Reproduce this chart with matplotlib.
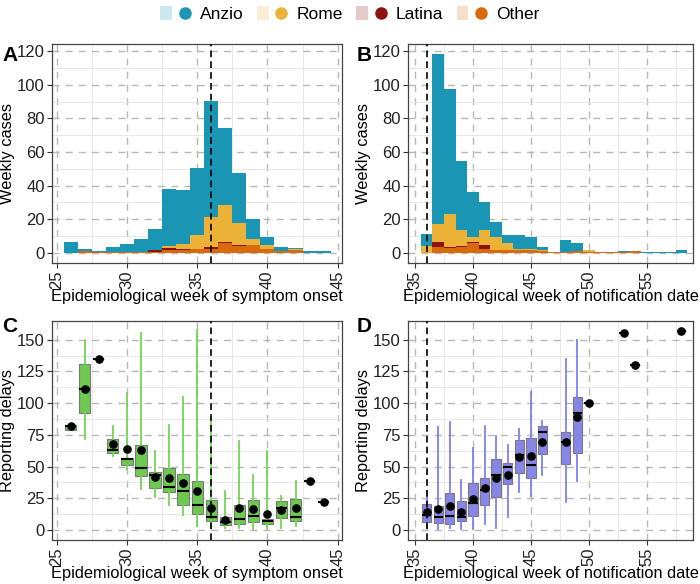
import matplotlib.pyplot as plt
import numpy as np
from matplotlib.patches import Patch
from matplotlib.lines import Line2D
from matplotlib.legend_handler import HandlerTuple

plt.rcParams['font.family'] = ['Liberation Sans', 'DejaVu Sans']

# colours
col_anzio = '#1A95B3'
col_rome = '#EBB237'
col_latina = '#8C1111'
col_other = '#D96A0B'
regions = ['Anzio', 'Rome', 'Latina', 'Other']
region_cols = [col_anzio, col_rome, col_latina, col_other]

# Panel A: weekly cases by week of symptom onset (segments, bottom to top: Other, Latina, Rome, Anzio)
weeks_a = list(range(26, 45))
other_a = [0, 1.2, 0.6, 0.6, 0.6, 0.6, 0.6, 1.6, 1.6, 2.4, 2.6, 5.8, 3.8, 4.4, 2.6, 1, 1.6, 0, 0]
latina_a = [0, 0, 0, 0, 0, 0, 1, 1.4, 1, 0, 0.8, 0.8, 0.8, 0, 0, 0, 0, 0, 0]
rome_a = [0, 0, 0, 0, 0, 0, 0, 1.2, 2.8, 8, 18, 21.8, 13, 4, 1.8, 0, 1, 0, 0]
anzio_a = [6.6, 1, 0.6, 2.6, 4.8, 7.6, 12.8, 34, 31.8, 40, 69.2, 45.8, 29.8, 12, 5, 2.2, 0.4, 1.4, 1.4]

# Panel B: weekly cases by week of notification
weeks_b = list(range(36, 59))
other_b = [0, 3.4, 2.8, 3.6, 5.6, 2.6, 1.6, 1.6, 1.6, 1.6, 1, 0.8, 0.6, 1.4, 0.8, 0.8, 0.8, 0.8, 1.4, 0, 0, 0, 0]
latina_b = [0, 3, 0.6, 0.6, 1, 2.2, 0, 0, 0, 0, 0, 0, 0, 0, 0, 0, 0, 0, 0, 0, 0, 0, 0]
rome_b = [4.2, 11, 20, 9.2, 2.6, 8.6, 7.8, 4, 1, 1, 0.6, 0, 0, 0, 0.8, 0, 0, 0, 0, 0, 0, 0, 0]
anzio_b = [7, 101, 74, 41, 27.2, 17, 9, 5.2, 8, 6.8, 1.8, 0, 7, 4.2, 0, 0, 0, 0.6, 0, 0.8, 0.8, 0.8, 1.6]

# Panel C: reporting delays by week of symptom onset
weeks_c = list(range(26, 45))
q1_c = [79, 92, 135, 60.6, 51, 42.6, 33.3, 29.6, 20, 13, 7, 4, 5, 6, 5, 9.4, 6.8, 39, 22]
med_c = [82, 111, 135, 63, 56, 48.6, 43, 34, 30.4, 20, 10, 6, 9, 11, 7, 17.4, 10, 39, 22]
q3_c = [83, 131, 135, 72, 57, 67.3, 46, 49, 44.5, 38.7, 24, 10, 20, 24, 8.6, 23, 24.7, 39, 22]
lo_c = [79, 72, 135, 58, 48, 32, 26, 20, 12, 3.4, 1.5, 1.5, 1.5, 1, 1, 1.5, 3, 39, 22]
hi_c = [83, 150, 135, 82, 107.6, 155, 62, 83, 105, 157.5, 88, 31, 70, 43, 62, 27, 39, 39, 22]
mean_c = [82, 111, 135, 67.6, 64, 63.4, 42, 41, 36.7, 30.7, 17.7, 8.3, 17, 16.4, 12.5, 15.6, 17.4, 39, 22]

# Panel D: reporting delays by week of notification
weeks_d = [36, 37, 38, 39, 40, 41, 42, 43, 44, 45, 46, 48, 49, 50, 53, 54, 58]
q1_d = [6.5, 5.7, 5, 6.8, 10.7, 20, 26, 36, 45, 41, 60, 52, 61, 100, 155, 130, 157]
med_d = [12, 10, 11, 10, 21.3, 31.7, 43.7, 50, 59.3, 51.2, 77.2, 69, 92, 100, 155, 130, 157]
q3_d = [20.8, 19.2, 29, 22.6, 37.4, 41, 56, 52.5, 70.7, 72.3, 82, 77, 105, 100, 155, 130, 157]
lo_d = [1.5, 1, 2, 1, 1, 5, 2, 10, 30, 27, 43, 22, 39, 100, 155, 130, 157]
hi_d = [31, 81, 85, 39.5, 65, 82, 74, 67, 80, 108.7, 86, 135, 150, 100, 155, 130, 157]
mean_d = [14.3, 16.4, 19.2, 14.6, 24.7, 32.8, 41.3, 43, 57.2, 58.5, 69, 69, 89.4, 100, 155, 130, 157]

cutoff_week = 36

fig = plt.figure(figsize=(7, 5.84), dpi=100)
axA = fig.add_axes([0.0747, 0.550, 0.4143, 0.374])
axB = fig.add_axes([0.5833, 0.550, 0.4071, 0.374])
axC = fig.add_axes([0.0747, 0.0753, 0.4143, 0.3755])
axD = fig.add_axes([0.5833, 0.0753, 0.4071, 0.3755])


def style_axis(ax, xlim, ylim, xmaj, xmin, ymaj, ymin, xlabel, ylabel):
    ax.set_xlim(*xlim)
    ax.set_ylim(*ylim)
    ax.set_xticks(xmaj)
    ax.set_xticks(xmin, minor=True)
    ax.set_yticks(ymaj)
    ax.set_yticks(ymin, minor=True)
    ax.set_axisbelow(True)
    ax.grid(which='minor', color='#E4E4E4', lw=0.6, ls='-')
    ax.grid(which='major', color='#B8B8B8', lw=1.0, ls=(0, (5, 4.5)))
    ax.tick_params(which='minor', length=0)
    ax.tick_params(which='major', length=3.5, width=0.8, color='#333333',
                   labelsize=12, labelcolor='#222222', pad=2)
    ax.tick_params(axis='x', labelrotation=90)
    for s in ax.spines.values():
        s.set_color('#444444')
        s.set_linewidth(0.9)
    ax.set_xlabel(xlabel, fontsize=11.8, labelpad=0)
    ax.set_ylabel(ylabel, fontsize=11.8, labelpad=1)
    ax.axvline(cutoff_week, color='black', lw=1.2, ls=(0, (4, 2.5)), zorder=5)


def stacked_bars(ax, weeks, other, latina, rome, anzio):
    bottom = np.zeros(len(weeks))
    for vals, c in [(other, col_other), (latina, col_latina), (rome, col_rome), (anzio, col_anzio)]:
        ax.bar(weeks, vals, width=1.0, bottom=bottom, color=c, linewidth=0, zorder=2)
        bottom = bottom + np.array(vals)


def boxes(ax, weeks, q1, med, q3, lo, hi, mean, fill, line):
    stats = []
    for i in range(len(weeks)):
        stats.append(dict(med=med[i], q1=q1[i], q3=q3[i], whislo=lo[i], whishi=hi[i], fliers=[]))
    ax.bxp(stats, positions=weeks, widths=0.8, patch_artist=True, showcaps=False,
           showfliers=False, manage_ticks=False,
           boxprops=dict(facecolor=fill, edgecolor='#7A7A7A', linewidth=0.8),
           whiskerprops=dict(color=line, linewidth=1.3),
           medianprops=dict(color='black', linewidth=1.5),
           zorder=3)
    ax.plot(weeks, mean, 'o', color='black', markersize=5.2, zorder=4)


stacked_bars(axA, weeks_a, other_a, latina_a, rome_a, anzio_a)
style_axis(axA, (24.69, 45.33), (-5.9, 124), [25, 30, 35, 40, 45], [27.5, 32.5, 37.5, 42.5],
           [0, 20, 40, 60, 80, 100, 120], [10, 30, 50, 70, 90, 110],
           'Epidemiological week of symptom onset', 'Weekly cases')

stacked_bars(axB, weeks_b, other_b, latina_b, rome_b, anzio_b)
style_axis(axB, (34.42, 59.02), (-5.9, 124), [35, 40, 45, 50, 55], [37.5, 42.5, 47.5, 52.5, 57.5],
           [0, 20, 40, 60, 80, 100, 120], [10, 30, 50, 70, 90, 110],
           'Epidemiological week of notification date', 'Weekly cases')

boxes(axC, weeks_c, q1_c, med_c, q3_c, lo_c, hi_c, mean_c, '#6DC94F', '#74D456')
style_axis(axC, (24.69, 45.33), (-7.85, 164.9), [25, 30, 35, 40, 45], [27.5, 32.5, 37.5, 42.5],
           [0, 25, 50, 75, 100, 125, 150], [12.5, 37.5, 62.5, 87.5, 112.5, 137.5],
           'Epidemiological week of symptom onset', 'Reporting delays')

boxes(axD, weeks_d, q1_d, med_d, q3_d, lo_d, hi_d, mean_d, '#8686E6', '#8080EE')
style_axis(axD, (34.42, 59.02), (-7.85, 164.9), [35, 40, 45, 50, 55], [37.5, 42.5, 47.5, 52.5, 57.5],
           [0, 25, 50, 75, 100, 125, 150], [12.5, 37.5, 62.5, 87.5, 112.5, 137.5],
           'Epidemiological week of notification date', 'Reporting delays')

# panel letters
for x, y, lab in [(0.003, 0.922, 'A'), (0.510, 0.922, 'B'), (0.003, 0.457, 'C'), (0.510, 0.457, 'D')]:
    fig.text(x, y, lab, fontsize=15, fontweight='bold', va='top', ha='left')

# legend
handles = []
for c in region_cols:
    handles.append((Patch(facecolor=c, alpha=0.22, edgecolor='none'),
                    Line2D([], [], marker='o', ls='none', color=c, markersize=8)))
fig.legend(handles, regions, loc='upper center', bbox_to_anchor=(0.5, 1.016), ncol=4,
           frameon=False, fontsize=12.5, handlelength=1.75, handleheight=0.85,
           columnspacing=0.75, handletextpad=0.55,
           handler_map={tuple: HandlerTuple(ndivide=None)})

fig.savefig('out.png', dpi=100)
